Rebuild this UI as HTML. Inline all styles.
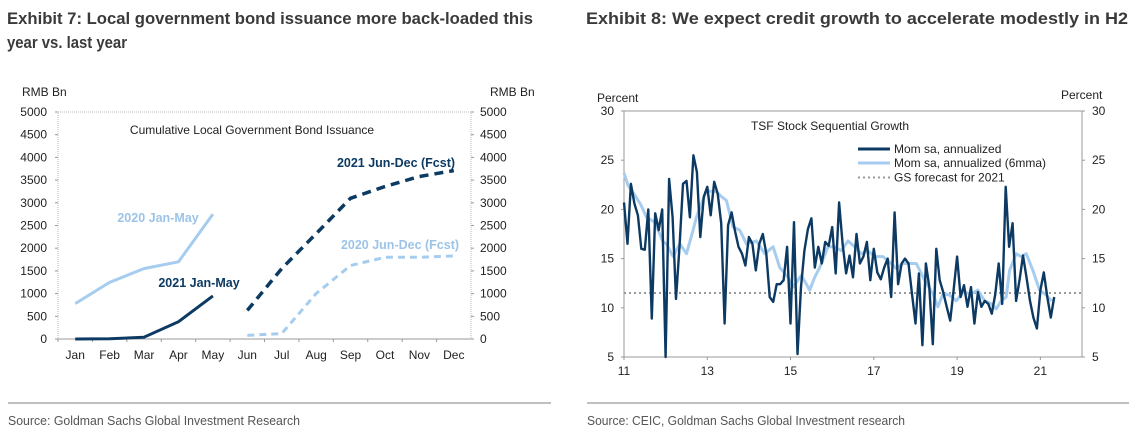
<!DOCTYPE html>
<html><head><meta charset="utf-8"><style>
body{margin:0;background:#fff;}
svg{display:block;font-family:"Liberation Sans",Arial,sans-serif;}
</style></head><body>
<svg id="root" width="1137" height="444" viewBox="0 0 1137 444">
<g font-weight="bold" font-size="17" fill="#3a3a3a">
<text x="7" y="24" textLength="526" lengthAdjust="spacingAndGlyphs">Exhibit 7: Local government bond issuance more back-loaded this</text>
<text x="7" y="48" textLength="120" lengthAdjust="spacingAndGlyphs">year vs. last year</text>
</g>
<text x="586" y="24" font-weight="bold" font-size="17" fill="#3a3a3a" textLength="542" lengthAdjust="spacingAndGlyphs">Exhibit 8: We expect credit growth to accelerate modestly in H2</text>
<line x1="8" y1="403" x2="551" y2="403" stroke="#aaa" stroke-width="1.5"/>
<line x1="587" y1="403" x2="1129" y2="403" stroke="#aaa" stroke-width="1.5"/>
<text x="8" y="425" font-size="13" fill="#555" textLength="292" lengthAdjust="spacingAndGlyphs">Source: Goldman Sachs Global Investment Research</text>
<text x="587" y="425" font-size="13" fill="#555" textLength="318" lengthAdjust="spacingAndGlyphs">Source: CEIC, Goldman Sachs Global Investment research</text>
<g id="left"></g>
<g id="right"></g>
</svg>
<script>
const NS="http://www.w3.org/2000/svg";
function mk(p,t,a,txt){const e=document.createElementNS(NS,t);for(const k in a)e.setAttribute(k,a[k]);if(txt!==undefined)e.textContent=txt;p.appendChild(e);return e;}

// ---------- Exhibit 7 data ----------
const months=["Jan","Feb","Mar","Apr","May","Jun","Jul","Aug","Sep","Oct","Nov","Dec"];
const lTicks=[0,500,1000,1500,2000,2500,3000,3500,4000,4500,5000];
const y2020JanMay=[780,1250,1550,1700,2750];
const y2021JanMay=[0,5,40,380,950];
const y2021JunDec=[630,1550,2320,3100,3360,3580,3710];
const y2020JunDec=[80,120,1000,1620,1800,1800,1830];

// ---------- Exhibit 8 data ----------
const rTicks=[5,10,15,20,25,30];
const xYearTicks=[11,13,15,17,19,21];
const startYear=11;
const momSa=[20.7,16.5,22.6,20.6,19.4,16,15.9,20,8.9,19.6,17.9,20,5,23.1,19.2,10.9,16.2,22.6,22.9,19.2,25.5,23.8,17.2,21.3,22.3,19.4,22.8,21.6,18.6,8.4,18.4,19.7,17.8,16.2,15.5,14.3,17.2,16.5,13.8,16.5,17.5,15.5,11.1,10.6,12.4,12.4,12.8,16.2,8.4,18.7,5.3,12.1,15.8,18,19.1,14.1,16.2,14.5,16.7,16.3,18.2,13.5,20.7,16.5,13.5,15.3,13.1,17.5,14.5,15.2,16.7,12.8,16,13.6,12.9,14.1,15,11.1,19.7,12.4,14.5,15,14.5,11.4,8.4,13.5,6.2,14.5,12.1,6.3,16,12.8,11.6,10.1,8.7,11.8,15.2,11.1,12.3,10.1,12.1,8.4,11.6,10.1,10.7,10.4,9.4,11.4,14.5,10.4,22.3,16.2,18.6,10.7,12.8,15.3,13.1,10.7,9,7.9,11.8,13.6,11.1,9,11.1];
const mmaDates=[11.0,11.1,11.25,11.4,11.54,11.74,11.94,12.02,12.18,12.34,12.5,12.66,12.74,12.98,13.22,13.34,13.46,13.62,13.78,13.94,14.18,14.38,14.58,14.74,14.94,15.06,15.26,15.46,15.58,15.7,15.9,16.06,16.22,16.38,16.54,16.7,16.86,17.02,17.22,17.42,17.54,17.7,17.86,18.02,18.22,18.42,18.54,18.66,18.82,18.98,19.14,19.34,19.5,19.66,19.82,19.94,20.06,20.18,20.26,20.42,20.54,20.66,20.82,20.98,21.14,21.27];
const mma=[23.7,22.4,21.5,20.5,19.2,18.7,16.7,16.5,15.2,16.5,15.5,17.9,19.2,21.9,21.8,21.3,20.9,18.2,17.9,16.5,16.8,15.5,16.2,14.1,13.1,12.1,13.3,11.8,13.1,14.1,16.2,16.2,15.8,16.8,16.2,15.5,15.8,15.2,15.2,14.5,14,14.5,14.5,14.5,12.8,11.4,10.1,11.4,11.3,10.7,11.6,11.4,11.8,10.7,10.4,9.9,10.7,11.1,13.8,15.5,15.2,15.5,13.8,11.8,11.3,10.7];
const forecast=11.5;

// ---------- Exhibit 7 render ----------
const L=document.getElementById('left');
const lx0=58,lx1=471,ly0=112,ly1=339,lmax=5000;
const bw=(lx1-lx0)/months.length;
const LX=i=>lx0+bw*(i+0.5), LY=v=>ly1-(v/lmax)*(ly1-ly0);
let f=mk(L,'rect',{x:lx0,y:ly0,width:lx1-lx0,height:ly1-ly0,fill:'none',stroke:'#bbb','stroke-dasharray':'1,1'});


mk(L,'line',{x1:lx0,y1:ly1,x2:lx1,y2:ly1,stroke:'#999'});
lTicks.forEach(v=>{
 let t=mk(L,'text',{x:47,y:LY(v)+4,'text-anchor':'end','font-size':12,fill:'#222'},String(v));
 
 
 let t2=mk(L,'text',{x:480,y:LY(v)+4,'font-size':12,fill:'#222'},String(v));
 
 
 mk(L,'line',{x1:lx0-3,x2:lx0,y1:LY(v),y2:LY(v),stroke:'#999'});
 mk(L,'line',{x1:lx1,x2:lx1+3,y1:LY(v),y2:LY(v),stroke:'#999'});
});
months.forEach((m,i)=>{
 let t=mk(L,'text',{x:LX(i),y:359,'text-anchor':'middle','font-size':12,fill:'#222'},m);
 
 
 mk(L,'line',{x1:lx0+bw*i,x2:lx0+bw*i,y1:ly1,y2:ly1+3,stroke:'#999'});
});
let a1=mk(L,'text',{x:22,y:96,'font-size':12,fill:'#222'},'RMB Bn');


let a2=mk(L,'text',{x:490,y:96,'font-size':12,fill:'#222'},'RMB Bn');


let ct=mk(L,'text',{x:252,y:134,'text-anchor':'middle','font-size':12,fill:'#222'},'Cumulative Local Government Bond Issuance');


function series(vals,off,color,dash,name,w){
 const d=vals.map((v,i)=>(i?'L':'M')+LX(i+off).toFixed(1)+','+LY(v).toFixed(1)).join('');
 const p=mk(L,'path',{d:d,fill:'none',stroke:color,'stroke-width':w,'stroke-dasharray':dash});
 
 
}
series(y2020JanMay,0,'#a6cdef','none','line-2020-jan-may',3);
series(y2021JanMay,0,'#0d3a63','none','line-2021-jan-may',3);
series(y2021JunDec,5,'#0d3a63','9,6','line-2021-jun-dec-fcst',3.5);
series(y2020JunDec,5,'#a6cdef','7,5','line-2020-jun-dec-fcst',3);
[['2021 Jun-Dec (Fcst)',396,167,'#0d3a63','label-2021-jun-dec'],['2020 Jan-May',158,222,'#9cc4e8','label-2020-jan-may'],['2021 Jan-May',199,287,'#0d3a63','label-2021-jan-may'],['2020 Jun-Dec (Fcst)',400,249,'#9cc4e8','label-2020-jun-dec']].forEach(a=>{
 let t=mk(L,'text',{x:a[1],y:a[2],'text-anchor':'middle','font-size':12.5,'font-weight':'bold',fill:a[3]},a[0]);
 
 
});

// ---------- Exhibit 8 render ----------
const R=document.getElementById('right');
const rx0=624,rx1=1082,ry0=111,ry1=357,xmin=11,xmax=22,ymin=5,ymax=30;
const RX=v=>rx0+(v-xmin)/(xmax-xmin)*(rx1-rx0), RY=v=>ry1-(v-ymin)/(ymax-ymin)*(ry1-ry0);
let rf=mk(R,'rect',{x:rx0,y:ry0,width:rx1-rx0,height:ry1-ry0,fill:'none',stroke:'#999'});


rTicks.forEach(v=>{
 let t=mk(R,'text',{x:614,y:RY(v)+4,'text-anchor':'end','font-size':12,fill:'#222'},String(v));
 
 
 let t2=mk(R,'text',{x:1092,y:RY(v)+4,'font-size':12,fill:'#222'},String(v));
 
 
 mk(R,'line',{x1:rx0-3,x2:rx0,y1:RY(v),y2:RY(v),stroke:'#999'});
 mk(R,'line',{x1:rx1,x2:rx1+3,y1:RY(v),y2:RY(v),stroke:'#999'});
});
xYearTicks.forEach(v=>{
 let t=mk(R,'text',{x:RX(v),y:375,'text-anchor':'middle','font-size':12,fill:'#222'},String(v));
 
 
 mk(R,'line',{x1:RX(v),x2:RX(v),y1:ry1,y2:ry1+3,stroke:'#999'});
});
let p1=mk(R,'text',{x:597,y:102,'font-size':12,fill:'#222'},'Percent');


let p2=mk(R,'text',{x:1061,y:99,'font-size':12,fill:'#222'},'Percent');


let fl=mk(R,'line',{x1:rx0,x2:rx1,y1:RY(forecast),y2:RY(forecast),stroke:'#999','stroke-width':2,'stroke-dasharray':'2,3'});


let md=mma.map((v,i)=>(i?'L':'M')+RX(mmaDates[i]).toFixed(1)+','+RY(v).toFixed(1)).join('');
let mp=mk(R,'path',{d:md,fill:'none',stroke:'#a6cdef','stroke-width':3,'stroke-linejoin':'round'});


let dd=momSa.map((v,i)=>(i?'L':'M')+RX(startYear+i/12).toFixed(1)+','+RY(v).toFixed(1)).join('');
let dp=mk(R,'path',{d:dd,fill:'none',stroke:'#0d3a63','stroke-width':2.4,'stroke-linejoin':'round'});


let rt=mk(R,'text',{x:830,y:130,'text-anchor':'middle','font-size':12,fill:'#222'},'TSF Stock Sequential Growth');


[['Mom sa, annualized',149,'#0d3a63','none',3],['Mom sa, annualized (6mma)',163,'#a6cdef','none',3],['GS forecast for 2021',177.5,'#999','2,3',2]].forEach(a=>{
 let g=mk(R,'g',{});
 
 
 mk(g,'line',{x1:858,x2:890,y1:a[1],y2:a[1],stroke:a[2],'stroke-width':a[4],'stroke-dasharray':a[3]});
 mk(g,'text',{x:894,y:a[1]+4,'font-size':12,fill:'#222'},a[0]);
});
</script>
</body></html>
